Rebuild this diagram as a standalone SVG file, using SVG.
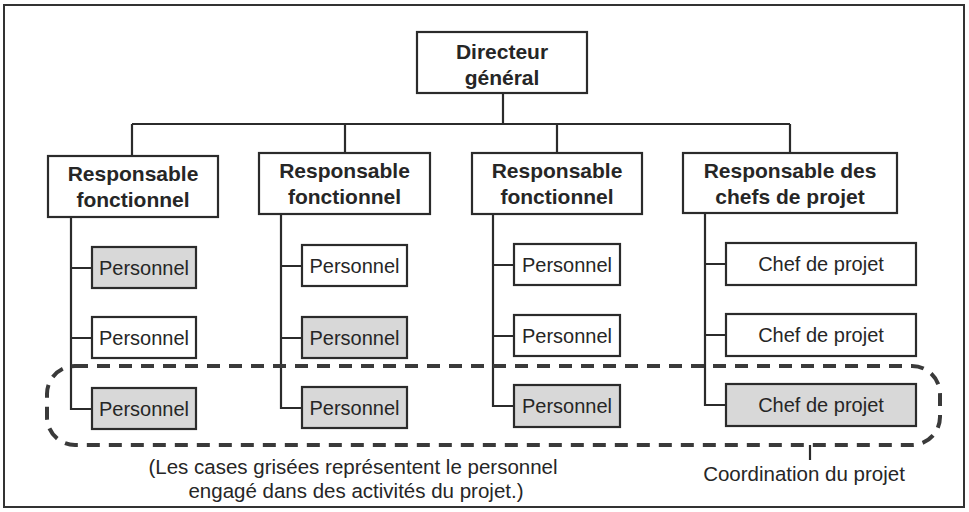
<svg xmlns="http://www.w3.org/2000/svg" width="969" height="512" viewBox="0 0 969 512">
<style>
.box{fill:#ffffff;stroke:#2b2b2b;stroke-width:2.2}
.grey{fill:#d8d8d8;stroke:#2b2b2b;stroke-width:2.2}
.ln{fill:none;stroke:#2b2b2b;stroke-width:2.2}
.b{font-family:"Liberation Sans",Arial,sans-serif;font-weight:bold;font-size:21px;fill:#262626;text-anchor:middle}
.t{font-family:"Liberation Sans",Arial,sans-serif;font-size:20px;fill:#262626;text-anchor:middle}
.n{font-family:"Liberation Sans",Arial,sans-serif;font-size:20.5px;fill:#262626;text-anchor:middle}
</style>
<rect x="0" y="0" width="969" height="512" fill="#ffffff"/>
<rect x="4" y="5" width="960" height="502" fill="none" stroke="#333" stroke-width="2"/>

<g id="connectors" class="ln">
  <path d="M503 93 V124 M132 124 H790 M132 124 V156 M345 124 V153 M557 124 V153 M790 124 V153"/>
  <path d="M71 217 V409 H92 M71 268 H92 M71 338 H92"/>
  <path d="M281 214 V408 H302 M281 266 H302 M281 338 H302"/>
  <path d="M493 213 V406 H514 M493 265 H514 M493 336 H514"/>
  <path d="M705 213 V405 H726 M705 264 H726 M705 335 H726"/>
</g>

<g id="directeur">
  <rect class="box" x="417" y="32" width="170" height="61"/>
  <text class="b" x="502" y="59">Directeur</text>
  <text class="b" x="502" y="85">général</text>
</g>

<g id="resp1">
  <rect class="box" x="48" y="156" width="170" height="61"/>
  <text class="b" x="133" y="181">Responsable</text>
  <text class="b" x="133" y="207">fonctionnel</text>
</g>
<g id="resp2">
  <rect class="box" x="259" y="153" width="171" height="61"/>
  <text class="b" x="344.5" y="178">Responsable</text>
  <text class="b" x="344.5" y="204">fonctionnel</text>
</g>
<g id="resp3">
  <rect class="box" x="472" y="153" width="170" height="61"/>
  <text class="b" x="557" y="178">Responsable</text>
  <text class="b" x="557" y="204">fonctionnel</text>
</g>
<g id="resp4">
  <rect class="box" x="683" y="153" width="214" height="60"/>
  <text class="b" x="790" y="178">Responsable des</text>
  <text class="b" x="790" y="204">chefs de projet</text>
</g>

<g id="p1a"><rect class="grey" x="92" y="247" width="104" height="41"/><text class="t" x="144" y="274.5">Personnel</text></g>
<g id="p1b"><rect class="box" x="92" y="317" width="104" height="41"/><text class="t" x="144" y="344.5">Personnel</text></g>
<g id="p1c"><rect class="grey" x="92" y="388" width="104" height="41"/><text class="t" x="144" y="415.5">Personnel</text></g>

<g id="p2a"><rect class="box" x="302" y="245" width="105" height="41"/><text class="t" x="354.5" y="272.5">Personnel</text></g>
<g id="p2b"><rect class="grey" x="302" y="317" width="105" height="41"/><text class="t" x="354.5" y="344.5">Personnel</text></g>
<g id="p2c"><rect class="grey" x="302" y="387" width="105" height="41"/><text class="t" x="354.5" y="414.5">Personnel</text></g>

<g id="p3a"><rect class="box" x="514" y="244" width="106" height="41"/><text class="t" x="567" y="271.5">Personnel</text></g>
<g id="p3b"><rect class="box" x="514" y="315" width="106" height="41"/><text class="t" x="567" y="342.5">Personnel</text></g>
<g id="p3c"><rect class="grey" x="514" y="385" width="106" height="42"/><text class="t" x="567" y="413">Personnel</text></g>

<g id="c1"><rect class="box" x="726" y="243" width="190" height="42"/><text class="t" x="821" y="270.5">Chef de projet</text></g>
<g id="c2"><rect class="box" x="726" y="314" width="190" height="42"/><text class="t" x="821" y="341.5">Chef de projet</text></g>
<g id="c3"><rect class="grey" x="726" y="384" width="190" height="42"/><text class="t" x="821" y="411.5">Chef de projet</text></g>

<g id="coordination">
  <rect x="47" y="366" width="893" height="79" rx="28" ry="28" fill="none" stroke="#3a3a3a" stroke-width="4" stroke-dasharray="13 9"/>
  <path d="M810 445 V460" stroke="#2b2b2b" stroke-width="2.2"/>
  <text class="n" x="804" y="481">Coordination du projet</text>
</g>

<g id="legende">
  <text class="n" x="353" y="474">(Les cases grisées représentent le personnel</text>
  <text class="n" x="356" y="498">engagé dans des activités du projet.)</text>
</g>
</svg>
